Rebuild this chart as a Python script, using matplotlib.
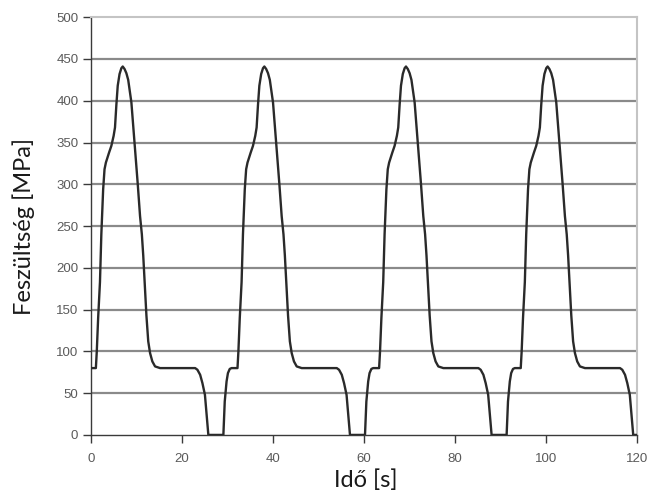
import matplotlib
matplotlib.use('Agg')
import matplotlib.pyplot as plt
import numpy as np

# stress history, four load cycles
time_s = [
    0.0, 1.1, 1.3, 1.6, 2.0, 2.3, 2.7, 3.0, 3.3, 4.0, 4.5, 5.0, 5.3, 5.6, 5.9, 6.3, 6.7,
    7.0, 7.4, 7.8, 8.2, 8.6, 8.9, 9.3, 9.7, 10.3, 10.8, 11.2, 11.5, 11.9, 12.2, 12.6,
    13.0, 13.5, 14.1, 15.2, 22.9, 23.4, 24.0, 24.5, 25.05, 25.4, 25.8, 29.1, 29.4,
    29.8, 30.1, 30.5, 30.9,
    31.1, 32.2, 32.4, 32.7, 33.1, 33.4, 33.8, 34.1, 34.4, 35.1, 35.6, 36.1, 36.4, 36.7,
    37.0, 37.4, 37.8, 38.1, 38.5, 38.9, 39.3, 39.7, 40.0, 40.4, 40.8, 41.4, 41.9, 42.3,
    42.6, 43.0, 43.3, 43.7, 44.1, 44.6, 45.2, 46.3, 54.0, 54.5, 55.1, 55.6, 56.15,
    56.5, 56.9, 60.2, 60.5, 60.9, 61.2, 61.6, 62.0,
    62.2, 63.3, 63.5, 63.8, 64.2, 64.5, 64.9, 65.2, 65.5, 66.2, 66.7, 67.2, 67.5, 67.8,
    68.1, 68.5, 68.9, 69.2, 69.6, 70.0, 70.4, 70.8, 71.1, 71.5, 71.9, 72.5, 73.0, 73.4,
    73.7, 74.1, 74.4, 74.8, 75.2, 75.7, 76.3, 77.4, 85.1, 85.6, 86.2, 86.7, 87.25,
    87.6, 88.0, 91.3, 91.6, 92.0, 92.3, 92.7, 93.1,
    93.3, 94.4, 94.6, 94.9, 95.3, 95.6, 96.0, 96.3, 96.6, 97.3, 97.8, 98.3, 98.6, 98.9,
    99.2, 99.6, 100.0, 100.3, 100.7, 101.1, 101.5, 101.9, 102.2, 102.6, 103.0, 103.6,
    104.1, 104.5, 104.8, 105.2, 105.5, 105.9, 106.3, 106.8, 107.4, 108.5, 116.2,
    116.7, 117.3, 117.8, 118.35, 118.7, 119.1, 120.0,
]

stress_mpa = [
    80, 80, 100, 140, 183, 240, 294, 318, 326, 338, 346, 358, 368, 395, 418, 432, 439,
    441, 438, 433, 425, 410, 398, 370, 342, 300, 262, 240, 215, 175, 143, 112,
    98, 88, 82, 80, 80, 78, 72, 62, 48, 25, 0, 0, 40, 64, 74, 79, 80,
    80, 80, 100, 140, 183, 240, 294, 318, 326, 338, 346, 358, 368, 395, 418, 432, 439,
    441, 438, 433, 425, 410, 398, 370, 342, 300, 262, 240, 215, 175, 143, 112,
    98, 88, 82, 80, 80, 78, 72, 62, 48, 25, 0, 0, 40, 64, 74, 79, 80,
    80, 80, 100, 140, 183, 240, 294, 318, 326, 338, 346, 358, 368, 395, 418, 432, 439,
    441, 438, 433, 425, 410, 398, 370, 342, 300, 262, 240, 215, 175, 143, 112,
    98, 88, 82, 80, 80, 78, 72, 62, 48, 25, 0, 0, 40, 64, 74, 79, 80,
    80, 80, 100, 140, 183, 240, 294, 318, 326, 338, 346, 358, 368, 395, 418, 432, 439,
    441, 438, 433, 425, 410, 398, 370, 342, 300, 262, 240, 215, 175, 143, 112,
    98, 88, 82, 80, 80, 78, 72, 62, 48, 25, 0, 0,
]

x_ticks = [0, 20, 40, 60, 80, 100, 120]
y_ticks = [0, 50, 100, 150, 200, 250, 300, 350, 400, 450, 500]

fig = plt.figure(figsize=(6.49, 4.92), dpi=100)
ax = fig.add_axes([0.140, 0.116, 0.842, 0.849])

ax.plot(time_s, stress_mpa, color='#2a2a2a', lw=1.7, solid_joinstyle='round', zorder=3)

ax.set_xlim(0, 120)
ax.set_ylim(0, 500)
ax.set_xticks(x_ticks)
ax.set_yticks(y_ticks)

# horizontal grid only, top line lighter like the frame
for y in y_ticks[1:-1]:
    ax.axhline(y, color='#8a8a8a', lw=1.6, zorder=1)

for side in ['top', 'right']:
    ax.spines[side].set_color('#c4c4c4')
    ax.spines[side].set_linewidth(1.5)
for side in ['left', 'bottom']:
    ax.spines[side].set_color('#3a3a3a')
    ax.spines[side].set_linewidth(1.0)

ax.tick_params(direction='out', length=6, width=1, color='#3a3a3a',
               labelcolor='#5a5a5a', labelsize=9.5)
ax.tick_params(axis='y', pad=3)
ax.tick_params(axis='x', pad=7)
for lbl in ax.get_xticklabels() + ax.get_yticklabels():
    lbl.set_family('Liberation Sans')

ax.set_xlabel('Idő [s]', fontsize=17, family='Lato', color='#1a1a1a', va='center')
ax.set_ylabel('Feszültség [MPa]', fontsize=17, family='Lato', color='#1a1a1a', va='center')
ax.xaxis.set_label_coords(0.503, -0.108)
ax.yaxis.set_label_coords(-0.123, 0.5)

fig.savefig('out.png', dpi=100)
